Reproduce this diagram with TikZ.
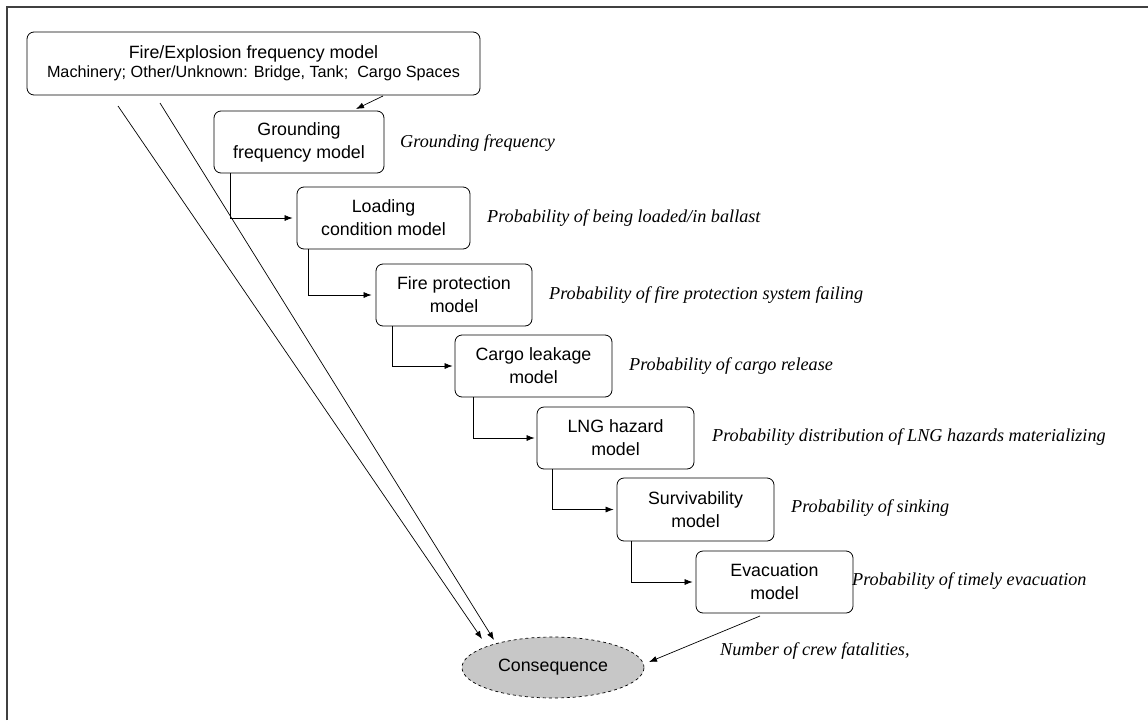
\documentclass[tikz,border=0pt]{standalone}
\usepackage{fontspec}
\setmainfont{Liberation Serif}
\setsansfont{Liberation Sans}
\usetikzlibrary{arrows.meta,shapes.geometric}
\begin{document}
\begin{tikzpicture}[x=1pt,y=-1pt,
  model/.style={draw,rounded corners=7pt,line width=0.8pt,align=center,inner sep=0pt,font=\sffamily\fontsize{17.8}{23}\selectfont},
  lab/.style={anchor=west,inner sep=0pt,font=\itshape\fontsize{18.2}{21}\selectfont},
  conn/.style={line width=0.7pt,-{Latex[length=8pt,width=6pt]}},
]
\useasboundingbox (0,0) rectangle (1148,720);
\draw[line width=1.6pt,black!75] (7,720) -- (7,7) -- (1148,7);

\node[model,minimum width=453pt,minimum height=63pt] (fire) at (253.5,63.5) {Fire/Explosion frequency model\\[-4pt]{\fontsize{16.2}{18}\selectfont Machinery; Other/Unknown: Bridge, Tank;\ \ Cargo Spaces}};
\node[model,minimum width=170pt,minimum height=62pt] (gro) at (299,142) {Grounding\\frequency model};
\node[model,minimum width=173pt,minimum height=62pt] (load) at (383.5,218) {Loading\\condition model};
\node[model,minimum width=156pt,minimum height=62pt] (fp) at (454,295) {Fire protection\\model};
\node[model,minimum width=157pt,minimum height=62pt] (cargo) at (533.5,366) {Cargo leakage\\model};
\node[model,minimum width=157pt,minimum height=62pt] (lng) at (615.5,438) {LNG hazard\\model};
\node[model,minimum width=157pt,minimum height=63pt] (surv) at (695.5,509.5) {Survivability\\model};
\node[model,minimum width=157pt,minimum height=62pt] (evac) at (774.5,582) {Evacuation\\model};
\node[ellipse,draw,dashed,fill=black!22,line width=0.7pt,minimum width=182pt,minimum height=61pt,inner sep=0pt,font=\sffamily\fontsize{17.8}{21}\selectfont] (cons) at (553,667.5) {Consequence};

\node[lab] (l1) at (400,143) {Grounding frequency};
\node[lab] (l2) at (487,218) {Probability of being loaded/in ballast};
\node[lab] (l3) at (549,295) {Probability of fire protection system failing};
\node[lab] (l4) at (629,366) {Probability of cargo release};
\node[lab] (l5) at (712,437) {Probability distribution of LNG hazards materializing};
\node[lab] (l6) at (791,508) {Probability of sinking};
\node[lab] (l7) at (852,581) {Probability of timely evacuation};
\node[lab] (l8) at (720,651) {Number of crew fatalities,};

\coordinate (f1) at (383,96);
\coordinate (f2) at (356,109);
\draw[conn] (f1) -- (f2);
\draw[conn] (gro.south west) ++(17,0) |- ([xshift=-4pt]load.west);
\draw[conn] (load.south west) ++(12,0) |- ([xshift=-4pt]fp.west);
\draw[conn] (fp.south west) ++(17,0) |- ([xshift=-2pt]cargo.west);
\draw[conn] (cargo.south west) ++(19,0) |- ([xshift=-2pt]lng.west);
\draw[conn] (lng.south west) ++(16,0) |- ([xshift=-3pt]surv.west);
\draw[conn] (surv.south west) ++(15,0) |- ([xshift=-3pt]evac.west);
\coordinate (e1) at (760,616);
\draw[conn] (e1) -- (649,662);
\coordinate (d1) at (118,106);
\coordinate (d2) at (160,103);
\draw[conn] (d1) -- (482,639);
\draw[conn] (d2) -- (494,640);
\end{tikzpicture}
\end{document}
